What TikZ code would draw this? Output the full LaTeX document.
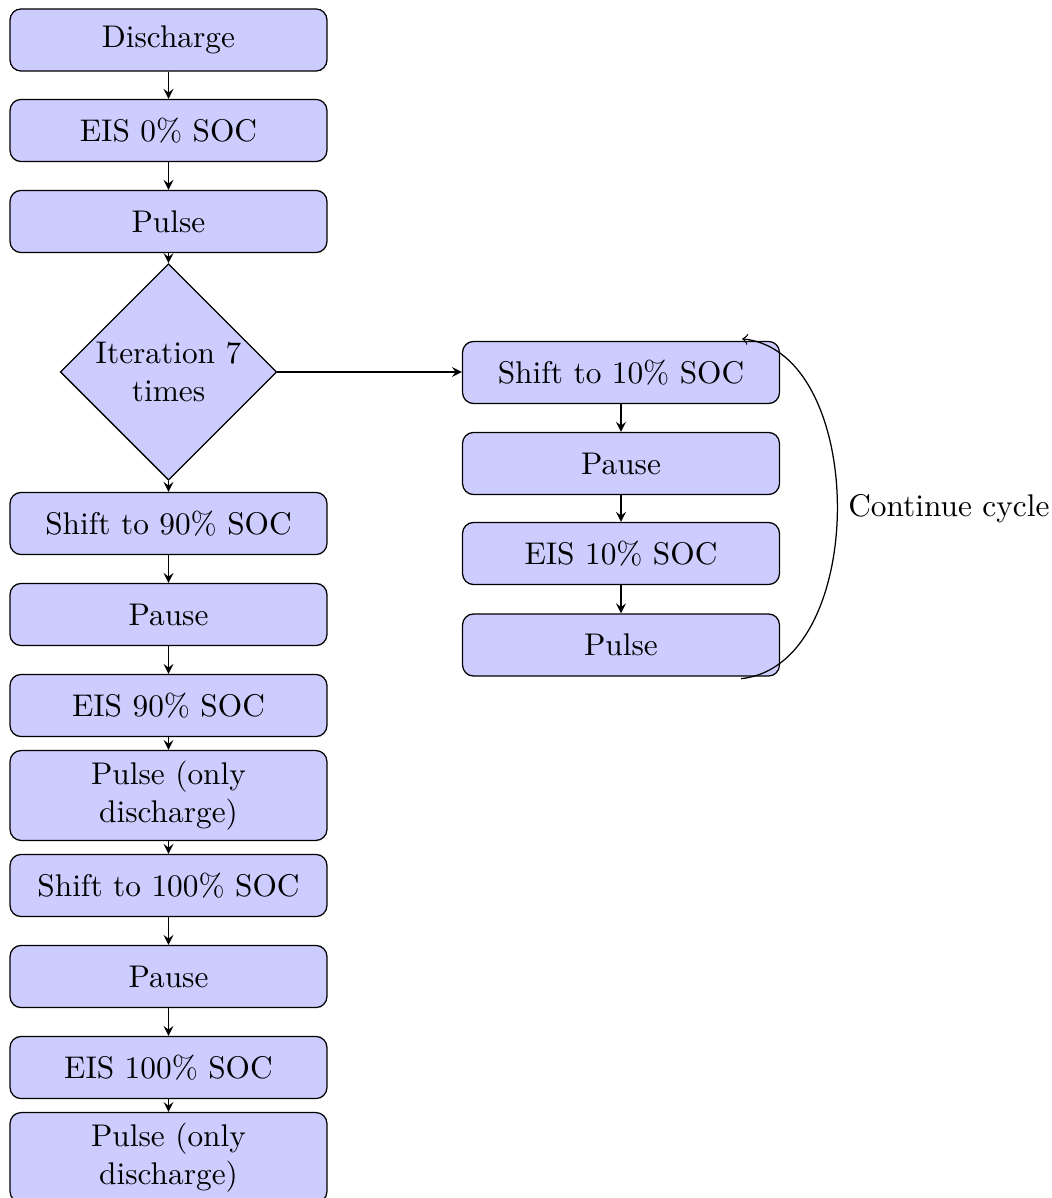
\documentclass[tikz,border=0pt]{standalone}
\usetikzlibrary{shapes.geometric,calc,arrows}
\begin{document}
\begin{tikzpicture}[x=0.319pt,y=-0.319pt,
  stepbox/.style={draw, fill=blue!20, rounded corners=3.5pt, minimum width=101.1pt,
    minimum height=19.8pt, text width=3cm, align=center, inner sep=3.33pt},
  decbox/.style={draw, fill=blue!20, shape=diamond, shape aspect=1, inner sep=0pt,
    minimum width=69pt, minimum height=69pt, align=center},
  flow/.style={-stealth}]
\useasboundingbox (0,0) rectangle (1051,1198);
\node[stepbox] (d1) at (168.5,40) {Discharge};
\node[stepbox] (d2) at (168.5,130.5) {EIS 0\% SOC};
\node[stepbox] (d3) at (168.5,221.5) {Pulse};
\node[decbox] (it) at (168.5,372) {Iteration 7\\times};
\node[stepbox] (d5) at (168.5,523.5) {Shift to 90\% SOC};
\node[stepbox] (d6) at (168.5,614.5) {Pause};
\node[stepbox] (d7) at (168.5,705.5) {EIS 90\% SOC};
\node[stepbox] (d8) at (168.5,795.5) {Pulse (only discharge)};
\node[stepbox] (d9) at (168.5,885.5) {Shift to 100\% SOC};
\node[stepbox] (d10) at (168.5,976.5) {Pause};
\node[stepbox] (d11) at (168.5,1067.5) {EIS 100\% SOC};
\node[stepbox] (d12) at (168.5,1157.5) {Pulse (only discharge)};
\node[stepbox] (r1) at (621,372.5) {Shift to 10\% SOC};
\node[stepbox] (r2) at (621,463.5) {Pause};
\node[stepbox] (r3) at (621,553.5) {EIS 10\% SOC};
\node[stepbox] (r4) at (621,645) {Pulse};
\draw[flow] (d1) -- (d2);
\draw[flow] (d2) -- (d3);
\draw[flow] (d3) -- (it);
\draw[flow] (it) -- (d5);
\draw[flow] (d5) -- (d6);
\draw[flow] (d6) -- (d7);
\draw[flow] (d7) -- (d8);
\draw[flow] (d8) -- (d9);
\draw[flow] (d9) -- (d10);
\draw[flow] (d10) -- (d11);
\draw[flow] (d11) -- (d12);
\draw[flow] (it.east) -- (it.east -| r1.west);
\draw[flow] (r1) -- (r2);
\draw[flow] (r2) -- (r3);
\draw[flow] (r3) -- (r4);
\draw[->] ($(r4.south east)+(-39,2)$) .. controls ($(r4.south east)+(89,-11)$) and ($(r1.north east)+(89,11)$) .. node[pos=0.5,right] (lbl) {Continue cycle} ($(r1.north east)+(-38,-2)$);
\end{tikzpicture}
\end{document}
